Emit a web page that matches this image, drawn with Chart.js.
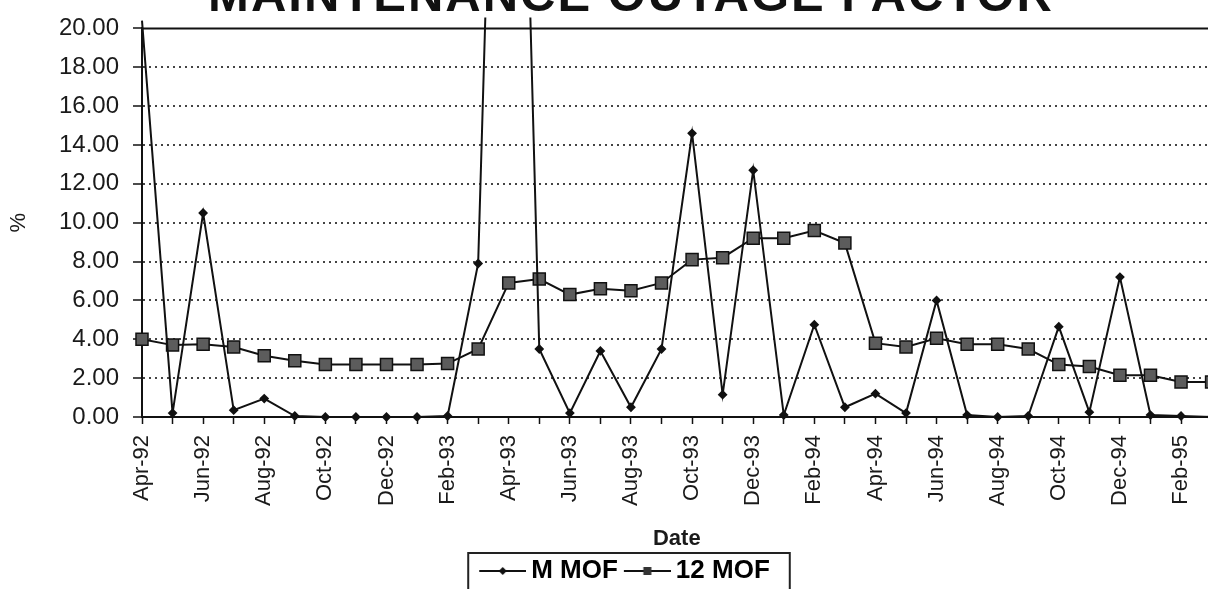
<!DOCTYPE html>
<html>
<head>
<meta charset="utf-8">
<script src="https://cdn.jsdelivr.net/npm/chart.js@4.4.1/dist/chart.umd.min.js"></script>
<style>
  html, body { margin: 0; padding: 0; background: #fff; overflow: hidden; }
  #wrap { position: relative; width: 1249px; height: 594px; }
</style>
</head>
<body>
<div id="wrap"><canvas id="mofGraph"></canvas></div>
<script>
// data (Apr-92 .. Mar-95)
const chartTitle = 'MAINTENANCE OUTAGE FACTOR';
const months = [
  'Apr-92', 'May-92', 'Jun-92', 'Jul-92', 'Aug-92', 'Sep-92', 'Oct-92', 'Nov-92', 'Dec-92',
  'Jan-93', 'Feb-93', 'Mar-93', 'Apr-93', 'May-93', 'Jun-93', 'Jul-93', 'Aug-93', 'Sep-93',
  'Oct-93', 'Nov-93', 'Dec-93', 'Jan-94', 'Feb-94', 'Mar-94', 'Apr-94', 'May-94', 'Jun-94',
  'Jul-94', 'Aug-94', 'Sep-94', 'Oct-94', 'Nov-94', 'Dec-94', 'Jan-95', 'Feb-95', 'Mar-95'
];
const monthlyMof = [
  20.4, 0.2, 10.5, 0.35, 0.95, 0.05, 0, 0, 0,
  0, 0.05, 7.9, 62, 3.5, 0.2, 3.4, 0.5, 3.5,
  14.6, 1.15, 12.7, 0.1, 4.75, 0.5, 1.2, 0.2, 6.0,
  0.1, 0, 0.05, 4.65, 0.25, 7.2, 0.1, 0.05, 0
];
const rollingMof = [
  4.0, 3.7, 3.75, 3.6, 3.15, 2.9, 2.7, 2.7, 2.7,
  2.7, 2.75, 3.5, 6.9, 7.1, 6.3, 6.6, 6.5, 6.9,
  8.1, 8.2, 9.2, 9.2, 9.6, 8.95, 3.8, 3.6, 4.05,
  3.75, 3.75, 3.5, 2.7, 2.6, 2.15, 2.15, 1.8, 1.8
];
const yMin = 0, yMax = 20, yStep = 2;

Chart.defaults.font.family = '"Liberation Sans", Arial, sans-serif';
Chart.defaults.color = '#1a1a1a';

// little line+marker pictures for the legend (line sits on the right part of the canvas)
function legendIcon(kind) {
  const c = document.createElement('canvas');
  c.width = 55; c.height = 14;
  const g = c.getContext('2d');
  g.strokeStyle = '#111';
  g.lineWidth = 2;
  g.beginPath(); g.moveTo(8, 7); g.lineTo(55, 7); g.stroke();
  const mx = 31.5;
  g.fillStyle = '#111';
  if (kind === 'diamond') {
    g.beginPath(); g.moveTo(mx, 3); g.lineTo(mx + 4, 7); g.lineTo(mx, 11); g.lineTo(mx - 4, 7); g.closePath(); g.fill();
  } else {
    g.fillStyle = '#333';
    g.fillRect(mx - 4, 3, 8, 8);
  }
  return c;
}
const legendIcons = [legendIcon('diamond'), legendIcon('square')];

// title (cut off at the top like the scan), top frame line, legend box
const decorations = {
  id: 'decorations',
  beforeDatasetsDraw(chart) {
    const {ctx, chartArea} = chart;
    ctx.save();
    ctx.strokeStyle = '#111';
    ctx.lineWidth = 2;
    ctx.beginPath();
    ctx.moveTo(chartArea.left, chartArea.top);
    ctx.lineTo(chart.width, chartArea.top);
    ctx.stroke();
    ctx.restore();
  },
  afterDraw(chart) {
    const ctx = chart.ctx;
    ctx.save();
    ctx.font = 'bold 49px "Liberation Sans", Arial, sans-serif';
    ctx.letterSpacing = '2px';
    ctx.textAlign = 'center';
    ctx.textBaseline = 'alphabetic';
    ctx.fillStyle = '#111';
    ctx.fillText(chartTitle, 631, 11);
    ctx.restore();

    const boxes = chart.legend.legendHitBoxes;
    if (boxes && boxes.length) {
      const first = boxes[0], last = boxes[boxes.length - 1];
      ctx.save();
      ctx.strokeStyle = '#222';
      ctx.lineWidth = 2;
      ctx.strokeRect(first.left - 11, first.top - 5, last.left + last.width - first.left + 31, 60);
      ctx.restore();
    }
  }
};

const ctx = document.getElementById('mofGraph').getContext('2d');

let mofChart = new Chart(ctx, {
  type: 'line',
  data: {
    labels: months,
    datasets: [{
      label: 'M MOF',
      data: monthlyMof,
      borderColor: '#111',
      borderWidth: 2,
      tension: 0,
      pointStyle: 'rectRot',
      pointRadius: 3.5,
      pointBackgroundColor: '#111',
      pointBorderColor: '#111',
      clip: {left: 4, top: 11, right: 4, bottom: 4}
    }, {
      label: '12 MOF',
      data: rollingMof,
      borderColor: '#111',
      borderWidth: 2,
      tension: 0,
      pointStyle: 'rect',
      pointRadius: 8.5,
      pointBackgroundColor: '#5c5c5c',
      pointBorderColor: '#111',
      pointBorderWidth: 1.5,
      clip: {left: 10, top: 10, right: 10, bottom: 10}
    }]
  },
  options: {
    responsive: true,
    maintainAspectRatio: false,
    animation: false,
    layout: { padding: { top: 22, left: 0, right: 0, bottom: 0 } },
    plugins: {
      tooltip: { enabled: false },
      legend: {
        position: 'bottom',
        labels: {
          usePointStyle: true,
          pointStyleWidth: 39,
          padding: 6,
          color: '#1a1a1a',
          font: { size: 26, weight: 'bold' },
          generateLabels: chart => chart.data.datasets.map((ds, i) => ({
            text: ds.label,
            pointStyle: legendIcons[i],
            datasetIndex: i,
            hidden: false,
            lineWidth: 0,
            fillStyle: 'transparent',
            strokeStyle: 'transparent'
          }))
        }
      }
    },
    scales: {
      x: {
        title: { display: true, text: 'Date', font: { size: 22, weight: 'bold' }, padding: { top: 4, bottom: 0 } },
        ticks: {
          autoSkip: false,
          minRotation: 90,
          maxRotation: 90,
          padding: 11,
          color: '#1a1a1a',
          font: { size: 22 },
          callback: (v, i) => (i % 2 === 0 ? months[i] : '')
        },
        grid: { drawOnChartArea: false, drawTicks: true, tickLength: 7, tickColor: '#111', tickWidth: 1.5 },
        border: { color: '#111', width: 2 },
        afterFit: s => { s.height = 135; }
      },
      y: {
        min: yMin,
        max: yMax,
        ticks: {
          stepSize: yStep,
          padding: 14,
          color: '#1a1a1a',
          font: { size: 24 },
          callback: v => v.toFixed(2)
        },
        title: { display: true, text: '%', font: { size: 22 }, padding: { top: 6, bottom: 0 } },
        grid: {
          color: c => (c.tick && (c.tick.value === yMin || c.tick.value === yMax)) ? 'rgba(0,0,0,0)' : '#444',
          lineWidth: 2,
          tickColor: '#111',
          tickLength: 9,
          tickWidth: 1.5
        },
        border: { color: '#111', width: 2, dash: [2, 4] },
        afterFit: s => { s.width = 142; }
      }
    }
  },
  plugins: [decorations]
});
</script>
</body>
</html>
